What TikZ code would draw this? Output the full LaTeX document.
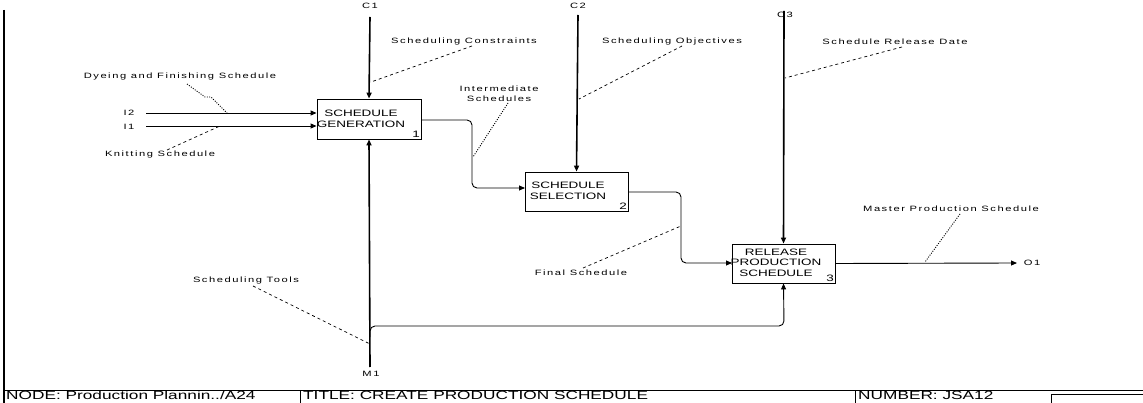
\documentclass[tikz,border=0pt]{standalone}
\usepackage{fontspec}
\setmainfont{Liberation Sans}[FakeStretch=1.45]
\usetikzlibrary{arrows.meta}
\newcommand\lblfont{\fontsize{7.7}{10}\selectfont\addfontfeatures{LetterSpace=20}}
\newcommand\boxfont{\fontsize{9.3}{10.5}\selectfont}
\newcommand\barfont{\fontsize{11.9}{13}\selectfont}
\begin{document}
\begin{tikzpicture}[x={(1pt,0)}, y={(0,-1pt)},
  tip/.tip={Triangle[length=6pt,width=5pt]},
  actbox/.style={draw, line width=0.9pt, minimum width=103pt, minimum height=39pt, inner sep=0pt},
  boxtxt/.style={font=\boxfont, align=center, inner sep=0pt},
  boxnum/.style={font=\boxfont, inner sep=1.5pt, anchor=south east},
  lbl/.style={font=\lblfont, inner sep=0pt, align=center},
  bartxt/.style={font=\barfont, inner sep=0pt, anchor=base west},
  flow/.style={line width=0.9pt, -tip},
  ctrl/.style={line width=1.6pt, -tip},
  leaderdash/.style={line width=0.7pt, dash pattern=on 3pt off 3pt},
  leaderdot/.style={line width=0.9pt, dash pattern=on 1pt off 1.4pt},
  frame/.style={line width=1pt}]
\useasboundingbox (0,0) rectangle (1143,403);

% activity boxes
\node[actbox, minimum width=104pt, minimum height=40pt] (b1) at (369,119) {};
\node[boxtxt] (b1t) at (361,119) {SCHEDULE\\GENERATION};
\node[boxnum] (b1n) at (b1.south east) {1};

\node[actbox] (b2) at (576.5,191.5) {};
\node[boxtxt] (b2t) at (568,191) {SCHEDULE\\SELECTION};
\node[boxnum] (b2n) at (b2.south east) {2};

\node[actbox] (b3) at (783.5,263.5) {};
\node[boxtxt] (b3t) at (776,262.5) {RELEASE\\PRODUCTION\\SCHEDULE};
\node[boxnum] (b3n) at (b3.south east) {3};

% boundary labels
\node[lbl] (i2) at (129,113) {I2};
\node[lbl] (i1) at (129,127) {I1};
\node[lbl] (c1) at (370,6) {C1};
\node[lbl] (c2) at (578,6) {C2};
\node[lbl] (c3) at (785,15) {C3};
\node[lbl] (m1) at (371,374) {M1};
\node[lbl] (o1) at (1032,263) {O1};

% free ends of boundary arrows
\coordinate (i2s) at (146,113);
\coordinate (i1s) at (146,126);
\coordinate (c1s) at (370,17);
\coordinate (c2s) at (578,15);
\coordinate (c3s) at (784,11);
\coordinate (m1s) at (370,367);
\coordinate (m1b) at (370,337);
\coordinate (o1e) at (1017,263);

% inputs and controls
\draw[flow] (i2s) -- (i2s -| b1.west);
\draw[flow] (i1s) -- (i1s -| b1.west);
\draw[ctrl] (c1s) -- (b1.north);
\draw[ctrl] (c2s) -- (b2.north);
\draw[ctrl] (c3s) -- (b3.north);

% mechanism
\draw[ctrl] (m1s) -- (b1.south);
\draw[flow, rounded corners=5pt] (m1b) |- (784,326) -- (b3.south);

% outputs between activities
\draw[flow, rounded corners=5pt] (421,120) -| (472,188) -- (525,188);
\draw[flow, rounded corners=5pt] (628,192) -| (681,263) -- (732,263);
\draw[flow] (b3.east) -- (o1e);

% arrow labels and their leaders
\node[lbl] (ldye) at (180,77) {Dyeing and Finishing Schedule};
\coordinate (ldyep) at (227,113);
\draw[leaderdot] (187,84) -- (205,97) -- (211,97) -- (ldyep);

\node[lbl] (lknit) at (160,155) {Knitting Schedule};
\coordinate (lknitp) at (220,126);
\draw[leaderdash] (167,150) -- (lknitp);

\node[lbl] (lcons) at (464,42) {Scheduling Constraints};
\coordinate (lconsp) at (371,82);
\draw[leaderdash] (472,46) -- (lconsp);

\node[lbl] (linter) at (499,94) {Intermediate\\Schedules};
\coordinate (linterp) at (473,157);
\draw[leaderdot] (508,103) -- (linterp);

\node[lbl] (lobj) at (672,42) {Scheduling Objectives};
\coordinate (lobjp) at (579,99);
\draw[leaderdash] (682,46) -- (lobjp);

\node[lbl] (lrel) at (895,42) {Schedule Release Date};
\coordinate (lrelp) at (785,78);
\draw[leaderdash] (902,47) -- (lrelp);

\node[lbl] (lfin) at (581,273) {Final Schedule};
\coordinate (lfinp) at (681,226);
\draw[leaderdash] (583,268) -- (lfinp);

\node[lbl] (lmps) at (951,209) {Master Production Schedule};
\coordinate (lmpsp) at (925,262);
\draw[leaderdot] (960,214) -- (lmpsp);

\node[lbl] (ltools) at (246,281) {Scheduling Tools};
\coordinate (ltoolsp) at (370,344);
\draw[leaderdash] (253,286) -- (ltoolsp);

% sheet frame and title bar
\draw[line width=2.6pt] (4,10) -- (4,403);
\draw[frame] (4,390) -- (1143,390);
\draw[frame] (300,390) -- (300,403);
\draw[frame] (855,390) -- (855,403);
\draw[frame] (1051,403) -- (1051,394) -- (1143,394);
\node[bartxt] (tnode) at (6,399.5) {NODE: Production Plannin../A24};
\node[bartxt] (ttitle) at (303,399.5) {TITLE: CREATE PRODUCTION SCHEDULE};
\node[bartxt] (tnum) at (858,399.5) {NUMBER: JSA12};
\end{tikzpicture}
\end{document}
